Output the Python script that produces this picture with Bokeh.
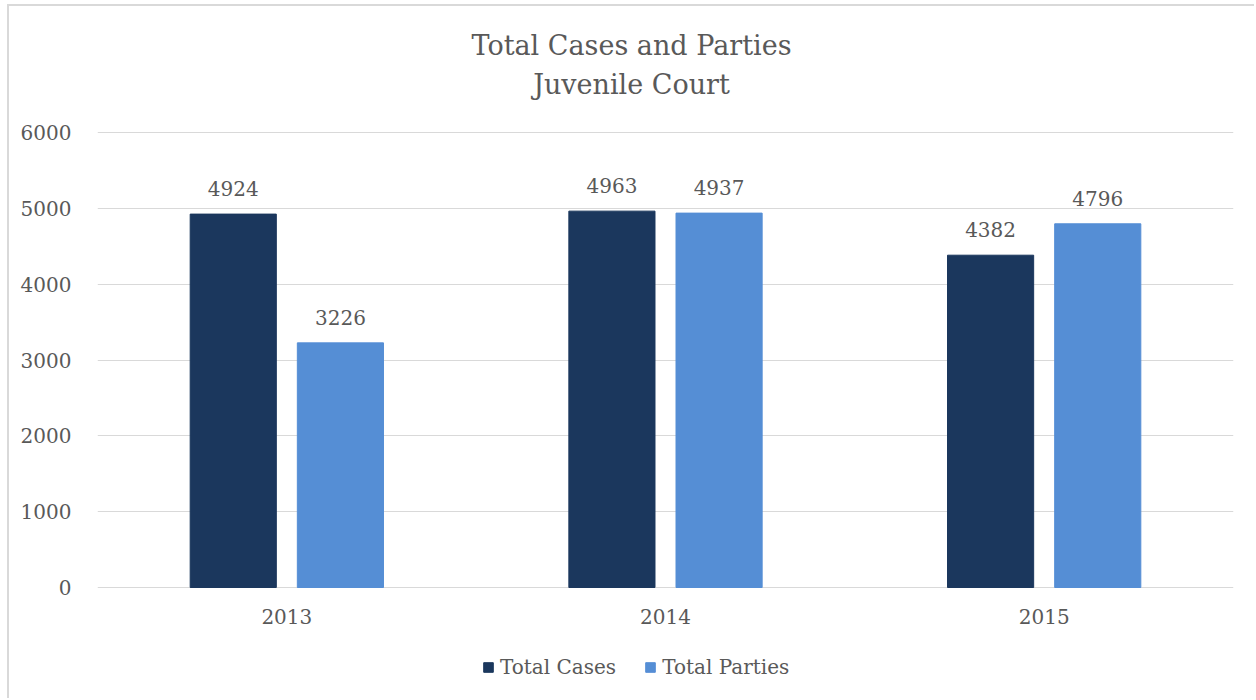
from bokeh.plotting import figure
from bokeh.models import (FactorRange, Range1d, FixedTicker, ColumnDataSource,
                          Label, Legend, LegendItem, LabelSet)
from bokeh.transform import dodge
from bokeh.core.properties import value
from bokeh.embed import file_html
from bokeh.resources import INLINE

# ---- data ----
years = ["2013", "2014", "2015"]
total_cases = [4924, 4963, 4382]
total_parties = [3226, 4937, 4796]
series_names = ["Total Cases", "Total Parties"]
y_ticks = [0, 1000, 2000, 3000, 4000, 5000, 6000]
title_lines = ["Total Cases and Parties", "Juvenile Court"]

FONT = "DejaVu Serif"
TEXT = "#595959"
DARK = "#1B375D"
LIGHT = "#558ED5"
GRID = "#D9D9D9"

src = ColumnDataSource(dict(
    year=years,
    cases=total_cases,
    parties=total_parties,
    cases_lbl=[str(v) for v in total_cases],
    parties_lbl=[str(v) for v in total_parties],
))

# frame spans the full height so the title and legend are drawn inside it;
# 0..6000 maps to pixel rows 587..132 of the page
Y0, Y1 = -1490, 7661.5
p = figure(width=1247, height=694, x_range=FactorRange(*years),
           y_range=Range1d(Y0, Y1), output_backend="svg", title=None,
           toolbar_location=None, min_border_left=88, min_border_right=23,
           min_border_top=0, min_border_bottom=0)
p.margin = (4, 0, 0, 7)
p.styles = {"border-top": "2px solid #D9D9D9", "border-left": "2px solid #D9D9D9"}
p.outline_line_color = None
p.background_fill_color = "white"
p.border_fill_color = "white"

OFF = 0.1415
W = 0.2275
r1 = p.vbar(x=dodge("year", -OFF, range=p.x_range), top="cases", width=W,
            source=src, fill_color=DARK, line_color=DARK)
r2 = p.vbar(x=dodge("year", OFF, range=p.x_range), top="parties", width=W,
            source=src, fill_color=LIGHT, line_color=LIGHT)

for xo, col in ((-OFF, "cases"), (OFF, "parties")):
    p.add_layout(LabelSet(x=dodge("year", xo, range=p.x_range), y=col,
                          text=col + "_lbl", source=src, y_offset=18,
                          text_align="center", text_baseline="alphabetic",
                          text_font=value(FONT), text_font_size=value("20px"),
                          text_color=value(TEXT)))

# axes
p.yaxis.ticker = FixedTicker(ticks=y_ticks)
p.xaxis.fixed_location = 0
for ax in (p.xaxis[0], p.yaxis[0]):
    ax.axis_line_color = None
    ax.major_tick_line_color = None
    ax.minor_tick_line_color = None
    ax.major_label_text_font = FONT
    ax.major_label_text_font_size = "20px"
    ax.major_label_text_color = TEXT
p.yaxis.major_label_standoff = 20
p.xaxis.major_label_standoff = 15
p.xgrid.grid_line_color = None
p.ygrid.grid_line_color = GRID
p.ygrid.grid_line_width = 1

# title
for txt, yy in ((title_lines[0], 655), (title_lines[1], 616)):
    p.add_layout(Label(x=534, y=yy, x_units="screen", y_units="screen",
                       text=txt, text_align="center",
                       text_baseline="alphabetic", text_font=FONT,
                       text_font_size="27px", text_color=TEXT))

legend = Legend(items=[LegendItem(label=series_names[0], renderers=[r1]),
                       LegendItem(label=series_names[1], renderers=[r2])],
                orientation="horizontal", location=(385, 21),
                glyph_width=12, glyph_height=12, label_standoff=6,
                spacing=28, padding=0, margin=0,
                border_line_color=None, background_fill_alpha=0,
                label_text_font=FONT, label_text_font_size="20px",
                label_text_color=TEXT)
p.add_layout(legend, "center")

open("out.html", "w").write(file_html(p, INLINE))
